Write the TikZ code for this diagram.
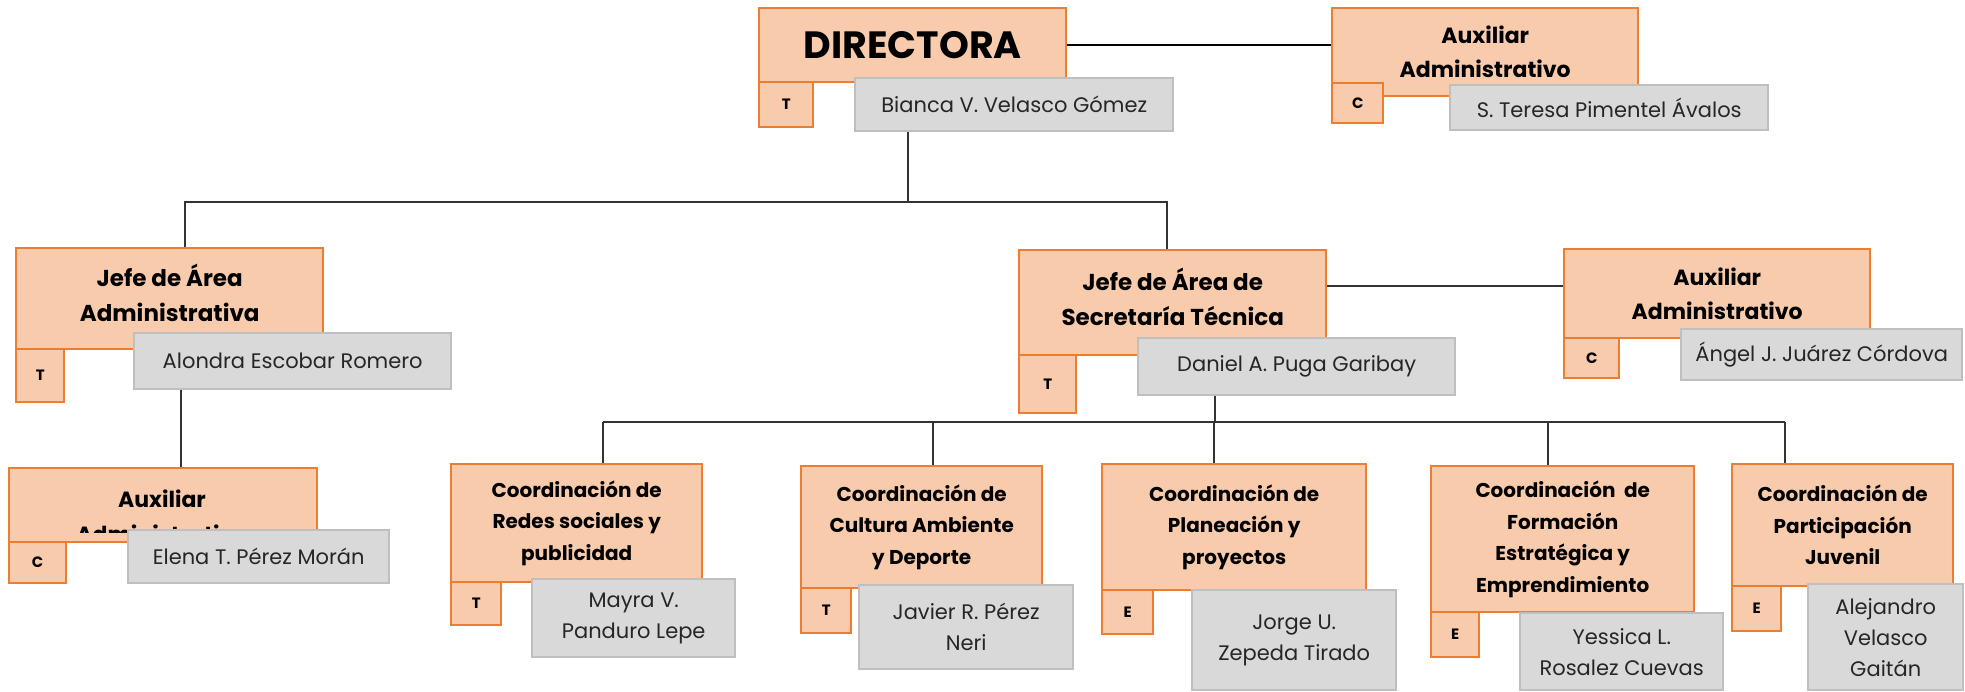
\documentclass[tikz,border=0pt]{standalone}
\usepackage{fontspec}
\setmainfont{Poppins}
\usepackage{xcolor}
\definecolor{naranja}{HTML}{ED7D31}
\definecolor{naranjaclaro}{HTML}{F8CBAD}
\definecolor{gris}{HTML}{D9D9D9}
\definecolor{grisborde}{HTML}{BFBFBF}

\begin{document}
\begin{tikzpicture}[x=0.5pt, y=-0.5pt,
  caja/.style 2 args={minimum width=#1*0.5pt, minimum height=#2*0.5pt},
  cargo/.style={draw=naranja, fill=naranjaclaro, line width=1.2pt, anchor=north west,
    inner sep=0pt, align=center, font=\bfseries\fontsize{11}{17}\selectfont},
  jefe/.style={cargo, font=\bfseries\fontsize{11.5}{17.5}\selectfont, text depth=6pt},
  coord/.style={cargo, font=\bfseries\fontsize{10}{15.75}\selectfont},
  tipo/.style={draw=naranja, fill=naranjaclaro, line width=1.2pt, anchor=north west,
    inner sep=0pt, font=\bfseries\fontsize{7.5}{8}\selectfont},
  nombre/.style={draw=grisborde, fill=gris, line width=1.2pt, anchor=north west,
    inner sep=0pt, align=center, text=black!85, font=\fontsize{10.5}{15.5}\selectfont},
  linea/.style={line width=0.8pt, black!80}]
\useasboundingbox (0,0) rectangle (1965,691);

\node[cargo, caja={307}{74}, font=\bfseries\fontsize{19}{22}\selectfont] (directora) at (758,7) {DIRECTORA};
\node[tipo, caja={54}{45}] (directoraT) at (758,81) {T};
\node[nombre, caja={318}{53}] (bianca) at (854,77) {Bianca V. Velasco Gómez};

\node[cargo, caja={306}{88}] (auxdir) at (1331,7) {Auxiliar\\Administrativo};
\node[tipo, caja={51}{40}] (auxdirC) at (1331,82) {C};
\node[nombre, caja={318}{45}] (teresa) at (1449,84) {S. Teresa Pimentel Ávalos};

\node[jefe, caja={307}{101}] (jefeadm) at (15,247) {Jefe de Área\\Administrativa};
\node[tipo, caja={48}{53}] (jefeadmT) at (15,348) {T};
\node[nombre, caja={317}{56}] (alondra) at (133,332) {Alondra Escobar Romero};

\node[jefe, caja={307}{105}] (jefesec) at (1018,249) {Jefe de Área de\\Secretaría Técnica};
\node[tipo, caja={57}{58}] (jefesecT) at (1018,354) {T};
\node[nombre, caja={317}{57}] (daniel) at (1137,337) {Daniel A. Puga Garibay};

\node[cargo, caja={306}{89}] (auxsec) at (1563,248) {Auxiliar\\Administrativo};
\node[tipo, caja={55}{40}] (auxsecC) at (1563,337) {C};
\node[nombre, caja={281}{51}] (angel) at (1680,328) {Ángel J. Juárez Córdova};

% el texto de esta caja se sale y queda tapado
\node[cargo, caja={308}{74}] (auxadm) at (8,467) {};
\coordinate (corte) at (316,532);
\begin{scope}
\clip (auxadm.north west) rectangle (corte);
\node[align=center, font=\bfseries\fontsize{11}{17.5}\selectfont] (auxadmtxt) at (162,516) {Auxiliar\\Administrativo};
\end{scope}
\node[tipo, caja={57}{41}] (auxadmC) at (8,541) {C};
\node[nombre, caja={261}{53}] (elena) at (127,529) {Elena T. Pérez Morán};

\node[coord, caja={251}{118}] (redes) at (450,463) {Coordinación de\\Redes sociales y\\publicidad};
\node[tipo, caja={50}{43}] (redesT) at (450,581) {T};
\node[nombre, caja={203}{78}] (mayra) at (531,578) {Mayra V.\\Panduro Lepe};

\node[coord, caja={241}{122}] (cultura) at (800,465) {Coordinación de\\Cultura Ambiente\\y Deporte};
\node[tipo, caja={50}{45}] (culturaT) at (800,587) {T};
\node[nombre, caja={214}{84}] (javier) at (858,584) {Javier R. Pérez\\Neri};

\node[coord, caja={264}{126}] (planeacion) at (1101,463) {Coordinación de\\Planeación y\\proyectos};
\node[tipo, caja={51}{44}] (planeacionE) at (1101,589) {E};
\node[nombre, caja={204}{100}] (jorge) at (1191,589) {Jorge U.\\Zepeda Tirado};

\node[coord, caja={263}{146}] (formacion) at (1430,465) {Coordinación\ \ de\\Formación\\Estratégica y\\Emprendimiento};
\node[tipo, caja={48}{45}] (formacionE) at (1430,611) {E};
\node[nombre, caja={203}{77}] (yessica) at (1519,612) {Yessica L.\\Rosalez Cuevas};

\node[coord, caja={221}{122}] (juvenil) at (1731,463) {Coordinación de\\Participación\\Juvenil};
\node[tipo, caja={49}{45}] (juvenilE) at (1731,585) {E};
\node[nombre, caja={155}{106}] (alejandro) at (1807,583) {Alejandro\\Velasco\\Gaitán};

% lineas
\draw[line width=1pt, black] (directora.east) -- (auxdir.west |- directora.east);
\coordinate (b0) at (908,202);
\coordinate (b1) at (185,202);
\coordinate (b2) at (1167,202);
\draw[linea] (bianca.south -| b0) -- (b0);
\draw[linea] (jefeadm.north -| b1) -- (b1) -- (b2) -- (jefesec.north -| b2);
\coordinate (b3) at (181,420);
\draw[linea] (alondra.south -| b3) -- (auxadm.north -| b3);
\coordinate (b4) at (1329,286);
\draw[linea] (jefesec.east |- b4) -- (auxsec.west |- b4);
\coordinate (b5) at (1215,422);
\draw[linea] (daniel.south -| b5) -- (b5);
\foreach \n/\x in {redes/603, cultura/933, planeacion/1214, formacion/1548, juvenil/1785} {
  \coordinate (r\n) at (\x,422);
  \draw[linea] (r\n) -- (\n.north -| r\n);
}
\draw[linea] (rredes) -- (rjuvenil);
\end{tikzpicture}
\end{document}
